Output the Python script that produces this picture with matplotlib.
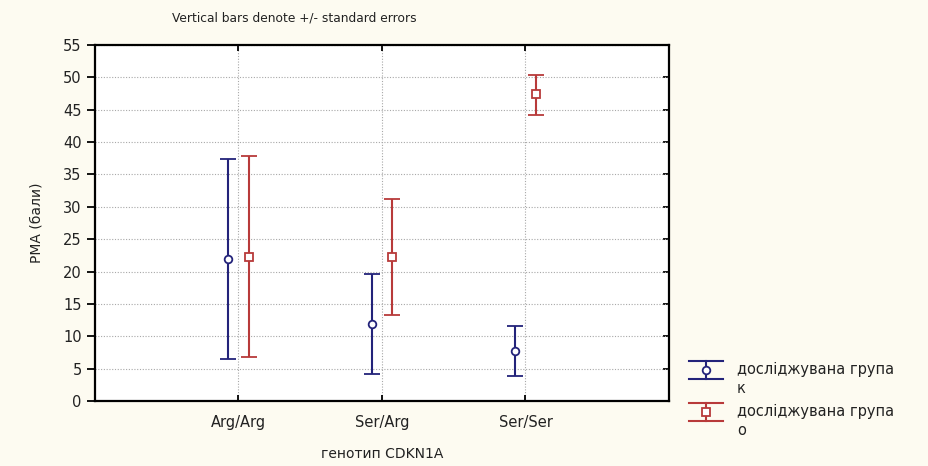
import matplotlib
matplotlib.use("Agg")
from matplotlib import pyplot as plt
from matplotlib.lines import Line2D
import numpy as np

plt.rcParams['font.family'] = ['DejaVu Sans']

# genotype groups on the x axis
genotypes = ["Arg/Arg", "Ser/Arg", "Ser/Ser"]

# group "к": means and +/- standard error limits
mean_k = [22.0, 11.85, 7.8]
upper_k = [37.4, 19.6, 11.6]
lower_k = [6.5, 4.1, 3.9]

# group "о": means and +/- standard error limits
mean_o = [22.3, 22.3, 47.4]
upper_o = [37.8, 31.2, 50.3]
lower_o = [6.75, 13.3, 44.2]

series_labels = ["досліджувана група\nк", "досліджувана група\nо"]

blue = "#23237a"
red = "#b83a3a"
bg = "#fdfbf1"
txt = "#222222"

fig = plt.figure(figsize=(9.29, 4.66), dpi=100, facecolor=bg)
ax = fig.add_axes([95/929, 65/466, 574/929, 356/466])
ax.set_facecolor("white")

x = np.arange(1, len(genotypes) + 1)
shift = 0.07

for xs, m, up, lo, col, mk in [(x - shift, mean_k, upper_k, lower_k, blue, 'o'),
                               (x + shift, mean_o, upper_o, lower_o, red, 's')]:
    m = np.array(m)
    yerr = [m - np.array(lo), np.array(up) - m]
    ax.errorbar(xs, m, yerr=yerr, fmt=mk, color=col, ecolor=col, elinewidth=1.5,
                capsize=5.5, capthick=1.5, markersize=5.5, markerfacecolor="white",
                markeredgecolor=col, markeredgewidth=1.3, zorder=3)

ax.set_xlim(0, 4)
ax.set_ylim(0, 55)
ax.set_xticks(x)
ax.set_xticklabels(genotypes, fontsize=10.5, color=txt)
ax.set_yticks(np.arange(0, 56, 5))
ax.tick_params(axis='y', labelsize=10.5, labelcolor=txt, direction='out', length=6,
               width=1.3, color='black')
ax.tick_params(axis='x', direction='in', top=True, length=4, width=1.3, pad=10)

# inward ticks along the right frame
sec = ax.secondary_yaxis('right')
sec.set_yticks(np.arange(5, 55, 5))
sec.tick_params(direction='in', length=4, width=1.3, labelright=False)
sec.spines['right'].set_visible(False)

for s in ax.spines.values():
    s.set_linewidth(1.6)

ax.grid(True, linestyle=(0, (1, 1.5)), color="#a8a8a8", linewidth=0.8)
ax.set_axisbelow(True)

ax.set_xlabel("генотип CDKN1A", fontsize=10, color=txt, labelpad=12)
ax.set_ylabel("РМА (бали)", fontsize=10, color=txt, labelpad=14)
fig.text(172/929, 1 - 18/466, "Vertical bars denote +/- standard errors",
         fontsize=8.8, color=txt, ha='left', va='center')

# hand-drawn legend entries outside the plot
def legend_entry(yc, col, mk, label):
    x0, x1 = 689/929, 723/929
    xc = (x0 + x1) / 2
    h = 9/466
    fig.add_artist(Line2D([x0, x1], [yc + h, yc + h], color=col, lw=1.5))
    fig.add_artist(Line2D([x0, x1], [yc - h, yc - h], color=col, lw=1.5))
    fig.add_artist(Line2D([xc, xc], [yc - h, yc + h], color=col, lw=1.5))
    fig.add_artist(Line2D([xc], [yc], marker=mk, markersize=5.5, markerfacecolor="white",
                          markeredgecolor=col, markeredgewidth=1.3, linestyle='none'))
    fig.text(737/929, yc + 8/466, label, fontsize=10.5, color=txt, ha='left', va='top',
             linespacing=1.3)

legend_entry(1 - 370/466, blue, 'o', series_labels[0])
legend_entry(1 - 412/466, red, 's', series_labels[1])

fig.savefig("out.png", dpi=100, facecolor=bg)
